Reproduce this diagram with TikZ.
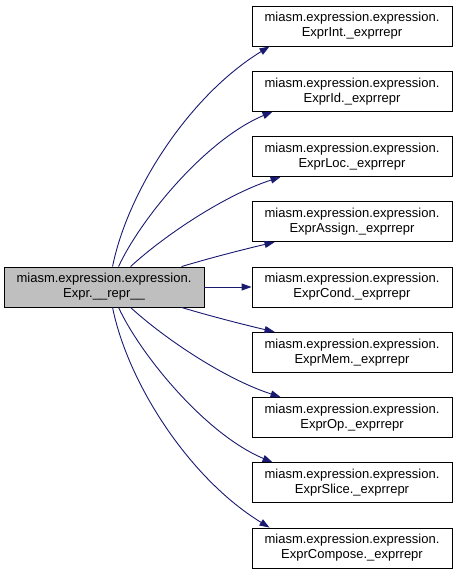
\documentclass[tikz,border=0pt]{standalone}
\usepackage{fontspec}
\setmainfont{Liberation Sans}
\usetikzlibrary{arrows.meta,calc}
\definecolor{edgeblue}{HTML}{191970}
\definecolor{srcgray}{HTML}{BFBFBF}
\begin{document}
\begin{tikzpicture}[x=1pt,y=-1pt,
  box/.style={draw=black,line width=0.9pt,fill=white,minimum width=200pt,minimum height=40pt,inner sep=0pt,align=center,font=\fontsize{13}{15}\selectfont},
  srcbox/.style={box,fill=srcgray},
  edge/.style={draw=edgeblue,line width=0.9pt,-{Triangle[length=10pt,width=7pt]}}]
\useasboundingbox (0,0) rectangle (456,575);
\node[srcbox] (src) at (104,287) {miasm.expression.expression.\\Expr.\_\_repr\_\_};
\node[box] (n1) at (352,26) {miasm.expression.expression.\\ExprInt.\_exprrepr};
\node[box] (n2) at (352,91.25) {miasm.expression.expression.\\ExprId.\_exprrepr};
\node[box] (n3) at (352,156.5) {miasm.expression.expression.\\ExprLoc.\_exprrepr};
\node[box] (n4) at (352,221.75) {miasm.expression.expression.\\ExprAssign.\_exprrepr};
\node[box] (n5) at (352,287) {miasm.expression.expression.\\ExprCond.\_exprrepr};
\node[box] (n6) at (352,352.25) {miasm.expression.expression.\\ExprMem.\_exprrepr};
\node[box] (n7) at (352,417.5) {miasm.expression.expression.\\ExprOp.\_exprrepr};
\node[box] (n8) at (352,482.75) {miasm.expression.expression.\\ExprSlice.\_exprrepr};
\node[box] (n9) at (352,548) {miasm.expression.expression.\\ExprCompose.\_exprrepr};
\draw[edge] ($(src.north west)+(109,0)$) .. controls (128,190) and (190,95) .. ($(n1.south west)+(18,0)$);
\draw[edge] ($(src.north west)+(115,0)$) .. controls (140,220) and (205,140) .. ($(n2.south west)+(21,0)$);
\draw[edge] ($(src.north west)+(127,0)$) .. controls (165,235) and (225,195) .. ($(n3.south west)+(29,0)$);
\draw[edge] ($(src.north west)+(178,0)$) .. controls (210,258) and (245,249) .. ($(n4.south west)+(23,0)$);
\draw[edge] (src.east) -- (n5.west);
\draw[edge] ($(src.south west)+(178,0)$) .. controls (210,316) and (245,325) .. ($(n6.north west)+(23,0)$);
\draw[edge] ($(src.south west)+(127,0)$) .. controls (165,339) and (225,379) .. ($(n7.north west)+(29,0)$);
\draw[edge] ($(src.south west)+(115,0)$) .. controls (140,354) and (205,434) .. ($(n8.north west)+(21,0)$);
\draw[edge] ($(src.south west)+(109,0)$) .. controls (128,384) and (190,479) .. ($(n9.north west)+(18,0)$);
\end{tikzpicture}
\end{document}
